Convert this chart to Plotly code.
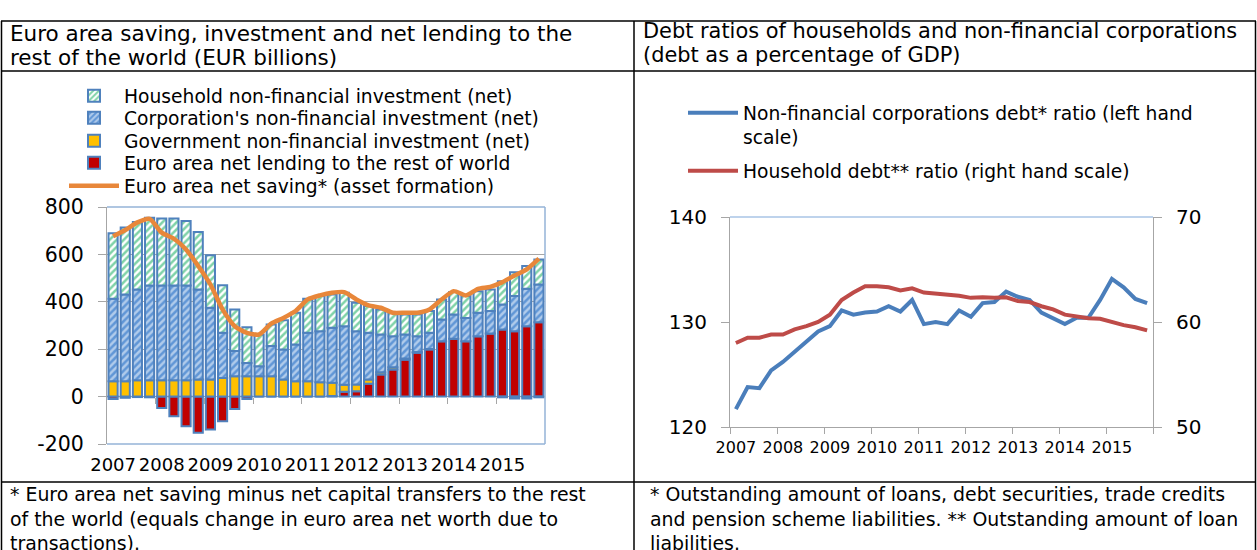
import plotly.graph_objects as go

# ---------------- DATA ----------------
years = ["2007", "2008", "2009", "2010", "2011", "2012", "2013", "2014", "2015"]
quarters = [f"{y}Q{q}" for y in years for q in range(1, 5)]

# Left chart (EUR billions), quarterly 2007Q1-2015Q4
net_lending = [-10, -5, -2, -3, -48, -83, -125, -153, -139, -104, -52, -10,
               0, 0, 0, 0, 0, 0, 3, 20, 23, 54, 93, 114,
               156, 185, 199, 234, 244, 234, 255, 266, 283, 276, 297, 314]
gov_inv = [65, 65, 69, 69, 69, 69, 69, 72, 72, 79, 86, 86,
           86, 86, 72, 65, 65, 61, 55, 30, 28, 18, 10, 10,
           5, 3, 2, 0, 0, 0, 0, 0, -3, -8, -8, -3]
corp_inv = [348, 366, 383, 400, 400, 400, 400, 380, 303, 190, 106, 56,
            42, 127, 127, 155, 204, 215, 232, 247, 225, 197, 159, 131,
            101, 67, 68, 91, 102, 98, 99, 95, 106, 148, 158, 159]
hh_inv = [276, 282, 285, 286, 283, 283, 272, 242, 221, 201, 176, 151,
          134, 91, 123, 134, 144, 148, 141, 141, 120, 113, 106, 99,
          84, 91, 92, 85, 95, 92, 91, 91, 98, 101, 96, 106]
net_saving = [677, 703, 735, 750, 692, 666, 621, 551, 473, 368, 297, 269,
              262, 308, 332, 361, 410, 427, 438, 441, 410, 385, 375, 354,
              354, 354, 368, 410, 445, 427, 455, 463, 483, 511, 537, 582]
left_yticks = [-200, 0, 200, 400, 600, 800]
left_yticktext = ["-200", "0", "200", "400", "600", "800"]

# Right chart (% of GDP)
nfc_debt = [121.7, 123.8, 123.7, 125.4, 126.2, 127.2, 128.1, 129.1, 129.6, 131.1, 130.7, 130.9,
            131.0, 131.5, 131.0, 132.1, 129.8, 130.0, 129.8, 131.1, 130.5, 131.8, 131.9, 132.9,
            132.4, 132.1, 130.9, 130.3, 129.8, 130.4, 130.4, 132.1, 134.1, 133.3, 132.2, 131.8]
hh_debt = [58.0, 58.5, 58.5, 58.8, 58.8, 59.3, 59.6, 60.0, 60.7, 62.1, 62.8, 63.4,
           63.4, 63.3, 63.0, 63.2, 62.8, 62.7, 62.6, 62.5, 62.3, 62.35, 62.3, 62.35,
           62.0, 61.9, 61.5, 61.2, 60.7, 60.5, 60.35, 60.3, 60.0, 59.7, 59.5, 59.2]
right_left_ticks = [120, 130, 140]
right_right_ticks = [50, 60, 70]

# ---------------- STYLE ----------------
W, H = 1257, 550
FONT = "DejaVu Sans"
EDGE = "#4F81BD"
GRID = "#A6A6A6"
FRAME = "#95B3D7"
LEG_FS = 18.7

def px(x):
    return x / W

def py(y):
    return 1 - y / H

idx = list(range(len(quarters)))
year_pos = [i for i, q in enumerate(quarters) if q.endswith("Q1")]
boundaries = [i - 0.5 for i in year_pos[1:]]
all_boundaries = [i - 0.5 for i in year_pos] + [len(quarters) - 0.5]

fig = go.Figure()

# ---- left chart: stacked bars ----
fig.add_trace(go.Bar(
    x=idx, y=net_lending, name="Euro area net lending to the rest of world",
    marker=dict(color="#C00000", line=dict(color=EDGE, width=2)),
    legend="legend5", xaxis="x", yaxis="y"))
fig.add_trace(go.Bar(
    x=idx, y=gov_inv, name="Government non-financial investment (net)",
    marker=dict(color="#FFC000", line=dict(color=EDGE, width=2)),
    legend="legend4", xaxis="x", yaxis="y"))
fig.add_trace(go.Bar(
    x=idx, y=corp_inv, name="Corporation's non-financial investment (net)",
    marker=dict(color=EDGE, line=dict(color=EDGE, width=2),
                pattern=dict(shape="/", fgcolor="white", bgcolor="#6096D6",
                             size=5, solidity=0.5)),
    legend="legend3", xaxis="x", yaxis="y"))
fig.add_trace(go.Bar(
    x=idx, y=hh_inv, name="Household non-financial investment (net)",
    marker=dict(color="white", line=dict(color=EDGE, width=2),
                pattern=dict(shape="/", fgcolor="#00A650", bgcolor="white",
                             size=5, solidity=0.5)),
    legend="legend", xaxis="x", yaxis="y"))
# the saving line sits on an overlaying x axis (same range) that carries the
# year-boundary tick marks on the zero line
fig.add_trace(go.Scatter(
    x=idx, y=net_saving, name="Euro area net saving* (asset formation)",
    mode="lines", line=dict(color="#E8873A", width=4.5, shape="spline", smoothing=0.6),
    legend="legend6", xaxis="x3", yaxis="y"))

# ---- right chart: lines ----
fig.add_trace(go.Scatter(
    x=idx, y=nfc_debt,
    name="Non-financial corporations debt* ratio (left hand<br>scale)",
    mode="lines", line=dict(color="#4A7EBB", width=4),
    legend="legend2", xaxis="x2", yaxis="y2"))
fig.add_trace(go.Scatter(
    x=idx, y=hh_debt, name="Household debt** ratio (right hand scale)",
    mode="lines", line=dict(color="#BE4B48", width=4),
    legend="legend7", xaxis="x2", yaxis="y3"))

# ---- axes ----
L_X = [px(107), px(545)]
L_Y = [py(444), py(207)]
R_X = [px(730), px(1153)]
R_Y = [py(427), py(217)]
zero_pos = L_Y[0] + (0 - (-200)) / 1000 * (L_Y[1] - L_Y[0])
xr = [-0.5, len(quarters) - 0.5]

def leg(x, y, yanchor="middle", valign="middle"):
    return dict(x=px(x), y=py(y), xanchor="left", yanchor=yanchor, valign=valign,
                itemwidth=50, font=dict(size=LEG_FS, family=FONT),
                bgcolor="rgba(0,0,0,0)", borderwidth=0)

fig.update_layout(
    width=W, height=H,
    margin=dict(l=0, r=0, t=0, b=0, pad=0, autoexpand=False),
    paper_bgcolor="white", plot_bgcolor="rgba(0,0,0,0)",
    barmode="relative", bargap=0.25,
    font=dict(family=FONT, color="black"),
    xaxis=dict(domain=L_X, anchor="y", range=xr, tickmode="array",
               tickvals=year_pos, ticktext=years, ticks="", showgrid=False,
               showline=False, zeroline=False, tickfont=dict(size=18),
               ticklabelstandoff=8),
    xaxis3=dict(overlaying="x", anchor="free", position=zero_pos, range=xr,
                tickmode="array", tickvals=boundaries, ticks="outside", ticklen=6,
                tickcolor=GRID, showticklabels=False, showgrid=False,
                showline=False, zeroline=False),
    yaxis=dict(domain=L_Y, anchor="x", range=[-200, 800], tickmode="array",
               tickvals=left_yticks, ticktext=left_yticktext, showgrid=True,
               gridcolor=GRID, zeroline=True, zerolinecolor=GRID, zerolinewidth=1,
               showline=True, linecolor=GRID, ticks="outside", ticklen=8,
               tickcolor=GRID, tickfont=dict(size=20.5), ticklabelstandoff=10),
    xaxis2=dict(domain=R_X, anchor="y2", range=xr, tickmode="array",
                tickvals=year_pos, ticktext=years, ticks="",
                minor=dict(tickmode="array", tickvals=all_boundaries, ticks="outside",
                           ticklen=6, tickcolor=GRID, showgrid=False),
                showgrid=False, showline=True, linecolor=GRID, zeroline=False,
                tickfont=dict(size=16), ticklabelstandoff=6),
    yaxis2=dict(domain=R_Y, anchor="x2", range=[120, 140], tickmode="array",
                tickvals=right_left_ticks, showgrid=False, zeroline=False,
                showline=True, linecolor=GRID, ticks="outside", ticklen=8,
                tickcolor=GRID, tickfont=dict(size=20), ticklabelstandoff=10),
    yaxis3=dict(overlaying="y2", anchor="x2", side="right", range=[50, 70],
                tickmode="array", tickvals=right_right_ticks, showgrid=False,
                zeroline=False, showline=True, linecolor=GRID, ticks="outside",
                ticklen=8, tickcolor=GRID, tickfont=dict(size=20),
                ticklabelstandoff=10),
    legend=leg(64, 96),
    legend3=leg(64, 118),
    legend4=leg(64, 141),
    legend5=leg(64, 163),
    legend6=leg(64, 186),
    legend2=leg(683, 94, "top", "top"),
    legend7=leg(683, 171),
    showlegend=True,
)

# ---- table frame and plot frames ----
shapes = []
def hline(y, x0, x1, w=1.5, color="black", ref=("paper", "paper")):
    shapes.append(dict(type="line", xref=ref[0], yref=ref[1], x0=x0, x1=x1, y0=y, y1=y,
                       line=dict(color=color, width=w)))
def vline(x, y0, y1, w=1.5, color="black", ref=("paper", "paper")):
    shapes.append(dict(type="line", xref=ref[0], yref=ref[1], x0=x, x1=x, y0=y0, y1=y1,
                       line=dict(color=color, width=w)))

for yy in (21, 71, 482):
    hline(py(yy), px(1), px(1256))
for xx in (1.5, 634, 1255.5):
    vline(px(xx), py(21), py(552))

# left plot-area frame (top, right, bottom)
hline(1, 0, 1, 1.5, FRAME, ("x domain", "y domain"))
hline(0, 0, 1, 1.5, FRAME, ("x domain", "y domain"))
vline(1, 0, 1, 1.5, FRAME, ("x domain", "y domain"))
# right plot-area top line
hline(1, 0, 1, 1.2, "#7FA7D9", ("x2 domain", "y2 domain"))
fig.update_layout(shapes=shapes)

# ---- text ----
texts = [
    (8, 33, "Euro area saving, investment and net lending to the", 21.5),
    (8, 57, "rest of the world (EUR billions)", 21.5),
    (641, 31, "Debt ratios of households and non-financial corporations", 20.9),
    (641, 55, "(debt as a percentage of GDP)", 20.9),
    (8, 494, "* Euro area net saving minus net capital transfers to the rest", 18.9),
    (8, 519, "of the world (equals change in euro area net worth due to", 18.9),
    (8, 543, "transactions).", 18.9),
    (648, 494, "* Outstanding amount of loans, debt securities, trade credits", 18.9),
    (648, 519, "and pension scheme liabilities. ** Outstanding amount of loan", 18.9),
    (648, 543, "liabilities.", 18.9),
]
for x, y, t, fs in texts:
    fig.add_annotation(x=px(x), y=py(y), xref="paper", yref="paper", text=t,
                       showarrow=False, xanchor="left", yanchor="middle",
                       font=dict(size=fs, family=FONT, color="black"))

# remove the default page margin so the figure sits at the window's top-left corner
fig.write_html("out.html", config={"displayModeBar": False},
               post_script="document.body.style.margin='0';document.body.style.overflow='hidden';")
